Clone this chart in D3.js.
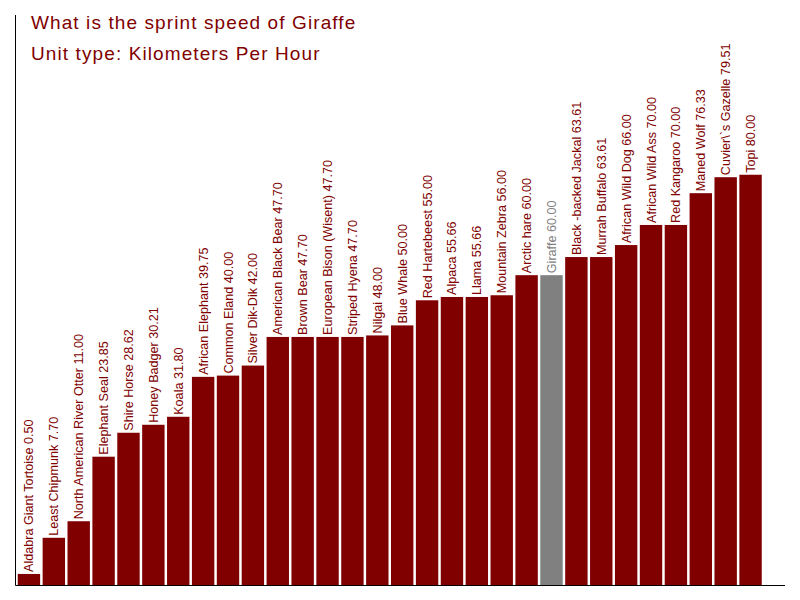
<!DOCTYPE html>
<html>
<head>
<meta charset="utf-8">
<script src="https://d3js.org/d3.v7.min.js"></script>
<style>
  body { margin: 0; background: #fff; }
  svg text { font-family: "Liberation Sans", Arial, sans-serif; }
</style>
</head>
<body>
<div id="chart"></div>
<script>
// Animal names and sprint speeds (km/h)
const animals = [
    "Aldabra Giant Tortoise", "Least Chipmunk", "North American River Otter",
    "Elephant Seal", "Shire Horse", "Honey Badger", "Koala", "African Elephant",
    "Common Eland", "Silver Dik-Dik", "American Black Bear", "Brown Bear",
    "European Bison (Wisent)", "Striped Hyena", "Nilgai", "Blue Whale",
    "Red Hartebeest", "Alpaca", "Llama", "Mountain Zebra", "Arctic hare",
    "Giraffe", "Black -backed Jackal", "Murrah Buffalo", "African Wild Dog",
    "African Wild Ass", "Red Kangaroo", "Maned Wolf", "Cuvier\\`s Gazelle", "Topi"
];
const speeds = [
    0.50, 7.70, 11.00, 23.85, 28.62, 30.21, 31.80, 39.75, 40.00, 42.00,
    47.70, 47.70, 47.70, 47.70, 48.00, 50.00, 55.00, 55.66, 55.66, 56.00,
    60.00, 60.00, 63.61, 63.61, 66.00, 70.00, 70.00, 76.33, 79.51, 80.00
];
const highlight = "Giraffe";
const titleLines = ["What is the sprint speed of Giraffe", "Unit type: Kilometers Per Hour"];

const data = animals.map((a, i) => ({ name: a, value: speeds[i] }));

const svg = d3.select("#chart").append("svg")
    .attr("width", 800)
    .attr("height", 600);

const x = d3.scaleBand()
    .domain(animals)
    .range([16.5, 763])
    .paddingInner(0.1)
    .paddingOuter(0.05);

const y = d3.scaleLinear()
    .domain([-1.7, 114.8])
    .range([585, 0]);

const base = 585;

svg.selectAll(".bar")
    .data(data)
    .enter().append("rect")
    .attr("class", "bar")
    .attr("x", d => x(d.name))
    .attr("y", d => y(d.value))
    .attr("width", x.bandwidth())
    .attr("height", d => base - y(d.value))
    .attr("fill", d => d.name === highlight ? "#808080" : "#800000");

svg.selectAll(".label")
    .data(data)
    .enter().append("text")
    .attr("class", "label")
    .attr("transform", d => `translate(${x(d.name) + x.bandwidth() / 2 + 4.5},${y(d.value) - 2}) rotate(-90)`)
    .attr("font-size", 12.6)
    .attr("fill", d => d.name === highlight ? "#808080" : "#800000")
    .text(d => `${d.name} ${d.value.toFixed(2)}`);

// axis lines
svg.append("line")
    .attr("x1", 15.5).attr("x2", 15.5)
    .attr("y1", 15).attr("y2", 585.5)
    .attr("stroke", "#000");
svg.append("line")
    .attr("x1", 15.5).attr("x2", 785)
    .attr("y1", 585.5).attr("y2", 585.5)
    .attr("stroke", "#000");

svg.selectAll(".title")
    .data(titleLines)
    .enter().append("text")
    .attr("class", "title")
    .attr("x", 31)
    .attr("y", (d, i) => 28.5 + i * 31.5)
    .attr("font-size", 19)
    .attr("letter-spacing", 1.1)
    .attr("fill", "#800000")
    .text(d => d);
</script>
</body>
</html>
